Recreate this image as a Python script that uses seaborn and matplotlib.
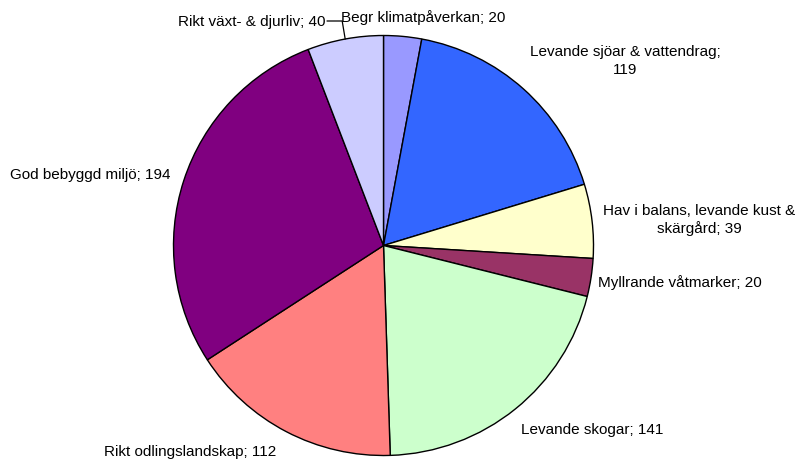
import numpy as np
import matplotlib
matplotlib.use("Agg")
import matplotlib.pyplot as plt
import seaborn as sns

categories = ["Begr klimatpåverkan", "Levande sjöar & vattendrag", "Hav i balans, levande kust & skärgård",
              "Myllrande våtmarker", "Levande skogar", "Rikt odlingslandskap",
              "God bebyggd miljö", "Rikt växt- & djurliv"]
values = [20, 119, 39, 20, 141, 112, 194, 40]
colors = ["#9999FF", "#3366FF", "#FFFFCC", "#993366", "#CCFFCC", "#FF8080", "#800080", "#CCCCFF"]
label_text = ["Begr klimatpåverkan; 20", "Levande sjöar & vattendrag;\n119",
              "Hav i balans, levande kust &\nskärgård; 39", "Myllrande våtmarker; 20",
              "Levande skogar; 141", "Rikt odlingslandskap; 112",
              "God bebyggd miljö; 194", "Rikt växt- & djurliv; 40"]

sns.set_theme(style="white")
plt.rcParams['font.family'] = ['Liberation Sans', 'DejaVu Sans']

W, H = 801, 462
fig = plt.figure(figsize=(W / 100, H / 100), dpi=100)
ax = fig.add_axes([0, 0, 1, 1])

cx, cy, R = 383.5, 245.5, 210
# Inverted y-axis: pie drawn counterclockwise in data -> appears clockwise on screen
wedges, _ = ax.pie(values, colors=colors, startangle=-90, counterclock=True,
                   center=(cx, cy), radius=R, frame=True,
                   wedgeprops=dict(edgecolor="black", linewidth=1.0))
ax.set_xlim(0, W)
ax.set_ylim(H, 0)
ax.set_aspect("equal")
ax.axis("off")

fs = 11
# label positions (layout)
pos = [(341, 18, "left"), (625, 61, "center"), (699, 220, "center"), (598, 283, "left"),
       (521, 430, "left"), (104, 452, "left"), (10, 175, "left"), (325, 22, "right")]
for t, (x, y, ha) in zip(label_text, pos):
    ax.text(x, y, t, fontsize=fs, ha=ha, va="center", color="black",
            multialignment="center", linespacing=1.3)

# leader line for last wedge
w = wedges[-1]
mid = np.deg2rad((w.theta1 + w.theta2) / 2)
px, py = cx + R * np.cos(mid), cy + R * np.sin(mid)
ax.plot([327, px - 3, px], [21, 21, py], color="black", lw=0.9)

fig.savefig("out.png", dpi=100, facecolor="white")
